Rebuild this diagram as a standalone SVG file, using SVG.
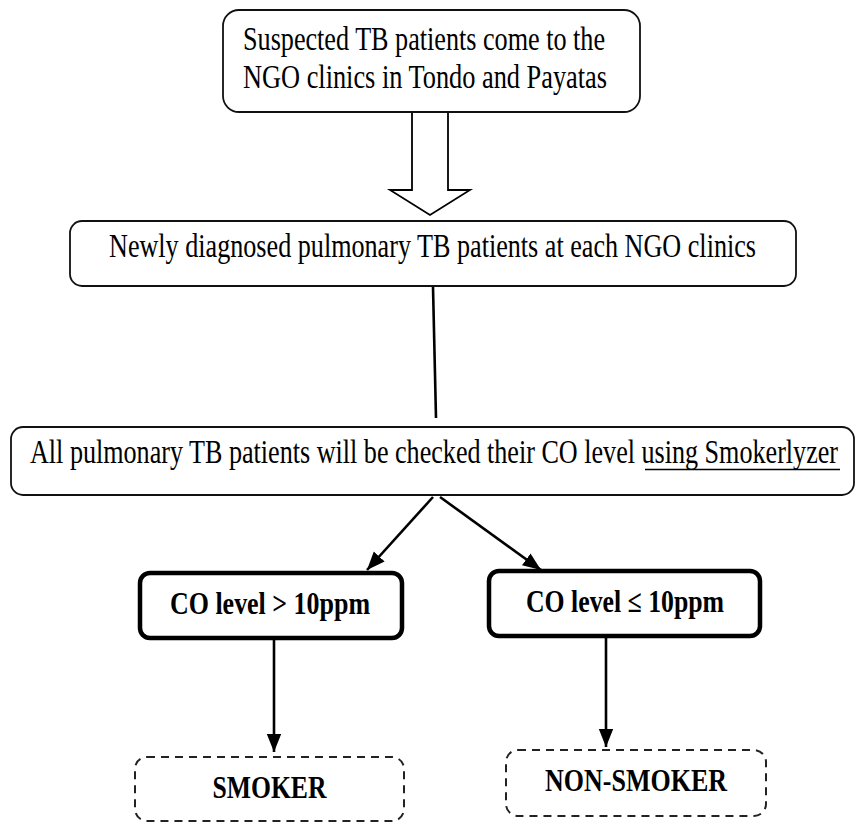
<svg xmlns="http://www.w3.org/2000/svg" width="856" height="826" viewBox="0 0 856 826">
<defs>
<style>
.box{fill:#fff;stroke:#111;stroke-width:1.8}
.bold{fill:#fff;stroke:#000;stroke-width:4.5}
.dash{fill:#fff;stroke:#222;stroke-width:2;stroke-dasharray:8 6}
.t{font-family:'Liberation Serif','DejaVu Serif','Noto Serif',Times,serif;font-size:26px;fill:#000;text-anchor:middle}
.b{font-family:'Liberation Serif','DejaVu Serif','Noto Serif',Times,serif;font-size:26px;font-weight:bold;fill:#000;text-anchor:middle}
.ln{stroke:#000;stroke-width:2.6;fill:none}
</style>
<marker id="ah2" viewBox="0 0 10 10" refX="10" refY="5" markerWidth="7" markerHeight="7" orient="auto" markerUnits="strokeWidth">
<path d="M0,1 L10,5 L0,9 z" fill="#000"/>
</marker>
</defs>
<g id="connectors">
<polygon points="412,112 412,190 390,190 430,215 470,190 448,190 448,112" fill="#fff" stroke="#000" stroke-width="1.8"/>
<line class="ln" x1="433" y1="287" x2="436" y2="418"/>
<line class="ln" x1="433" y1="497" x2="367" y2="570" marker-end="url(#ah2)"/>
<line class="ln" x1="440" y1="497" x2="541" y2="570" marker-end="url(#ah2)"/>
<line class="ln" x1="274" y1="640" x2="274" y2="752" marker-end="url(#ah2)"/>
<line class="ln" x1="606" y1="638" x2="606" y2="747" marker-end="url(#ah2)"/>
</g>
<g id="n1">
<rect class="box" x="223" y="10" width="417" height="102" rx="16"/>
<text class="t" transform="translate(424,50) scale(1,1.27)" textLength="362" lengthAdjust="spacingAndGlyphs">Suspected TB patients come to the</text>
<text class="t" transform="translate(425,88) scale(1,1.27)" textLength="364" lengthAdjust="spacingAndGlyphs">NGO clinics in Tondo and Payatas</text>
</g>
<g id="n2">
<rect class="box" x="70" y="221" width="726" height="65" rx="12"/>
<text class="t" transform="translate(432.5,257) scale(1,1.27)" textLength="647" lengthAdjust="spacingAndGlyphs">Newly diagnosed pulmonary TB patients at each NGO clinics</text>
</g>
<g id="n3">
<rect class="box" x="11" y="427" width="843" height="68" rx="12"/>
<text class="t" transform="translate(434,463) scale(1,1.27)" textLength="808" lengthAdjust="spacingAndGlyphs">All pulmonary TB patients will be checked their CO level using Smokerlyzer</text>
<line x1="645" y1="469.5" x2="840" y2="469.5" stroke="#000" stroke-width="1.5"/>
</g>
<g id="n4">
<rect class="bold" x="140" y="573" width="262" height="65" rx="10"/>
<text class="b" transform="translate(270,614) scale(1,1.2)" textLength="200" lengthAdjust="spacingAndGlyphs">CO level &gt; 10ppm</text>
</g>
<g id="n5">
<rect class="bold" x="489" y="571" width="271" height="65" rx="10"/>
<text class="b" transform="translate(625,612) scale(1,1.2)" textLength="198" lengthAdjust="spacingAndGlyphs">CO level ≤ 10ppm</text>
</g>
<g id="n6">
<rect class="dash" x="135" y="757" width="269" height="64" rx="12"/>
<text class="b" transform="translate(269.5,798) scale(1,1.2)" textLength="114" lengthAdjust="spacingAndGlyphs">SMOKER</text>
</g>
<g id="n7">
<rect class="dash" x="506" y="750" width="260" height="66" rx="12"/>
<text class="b" transform="translate(636,791) scale(1,1.2)" textLength="182" lengthAdjust="spacingAndGlyphs">NON-SMOKER</text>
</g>
</svg>
